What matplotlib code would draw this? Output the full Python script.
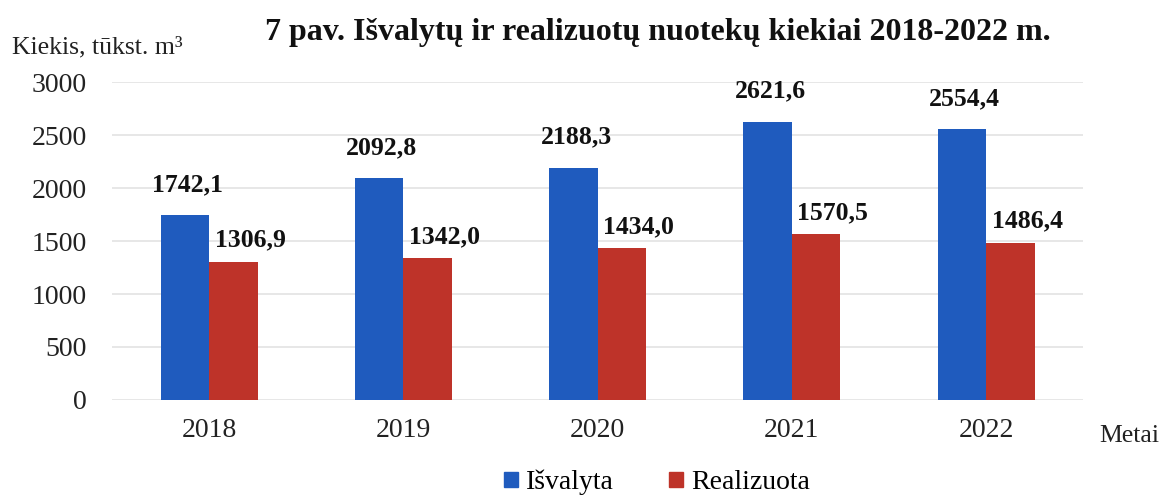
import matplotlib
matplotlib.use("Agg")
import matplotlib.pyplot as plt
from matplotlib.patches import Patch
import numpy as np

years = ["2018", "2019", "2020", "2021", "2022"]
isvalyta = [1742.1, 2092.8, 2188.3, 2621.6, 2554.4]
realizuota = [1306.9, 1342.0, 1434.0, 1570.5, 1486.4]
series_names = ["Išvalyta", "Realizuota"]
yticks = [0, 500, 1000, 1500, 2000, 2500, 3000]

plt.rcParams['font.family'] = ['Liberation Serif', 'DejaVu Serif']

fig = plt.figure(figsize=(11.61, 4.95), dpi=100)
ax = fig.add_axes([0.0965, 0.192, 0.8365, 0.642])

blue = "#1F5BBE"
red = "#BE3329"
x = np.arange(len(years))
w = 0.25
ax.bar(x - w / 2, isvalyta, w, color=blue, zorder=3)
ax.bar(x + w / 2, realizuota, w, color=red, zorder=3)

def fmt(v):
    return f"{v:.1f}".replace(".", ",")

for xi, v in zip(x - w / 2, isvalyta):
    ax.annotate(fmt(v), (xi, v), xytext=(2, 14), textcoords="offset points",
                ha="center", va="bottom", fontsize=18.5, fontweight="bold", color="#111111")
for xi, v in zip(x + w / 2, realizuota):
    ax.annotate(fmt(v), (xi, v), xytext=(12, 7), textcoords="offset points",
                ha="center", va="bottom", fontsize=18.5, fontweight="bold", color="#111111")

ax.set_xlim(-0.5, 4.5)
ax.set_ylim(0, 3000)
ax.set_yticks(yticks)
ax.set_xticks(x)
ax.set_xticklabels(years)
ax.tick_params(axis="both", length=0, labelsize=20, colors="#222222")
ax.tick_params(axis="x", pad=13)
ax.tick_params(axis="y", pad=18)
ax.grid(axis="y", color="#E3E3E3", linewidth=1.2, zorder=0)
for s in ax.spines.values():
    s.set_visible(False)

fig.text(0.567, 0.934, "7 pav. Išvalytų ir realizuotų nuotekų kiekiai 2018-2022 m.",
         ha="center", va="center", fontsize=23, fontweight="bold", color="#111111")
fig.text(0.01, 0.905, "Kiekis, tūkst. m³", ha="left", va="center", fontsize=18.5, color="#222222")
fig.text(0.947, 0.12, "Metai", ha="left", va="center", fontsize=18.5, color="#222222")

handles = [Patch(color=blue), Patch(color=red)]
fig.legend(handles, series_names, loc="center", bbox_to_anchor=(0.566, 0.025),
           ncol=2, frameon=False, fontsize=20, handlelength=0.5, handleheight=0.5,
           handletextpad=0.3, columnspacing=2.0)

fig.savefig("out.png", dpi=100)
